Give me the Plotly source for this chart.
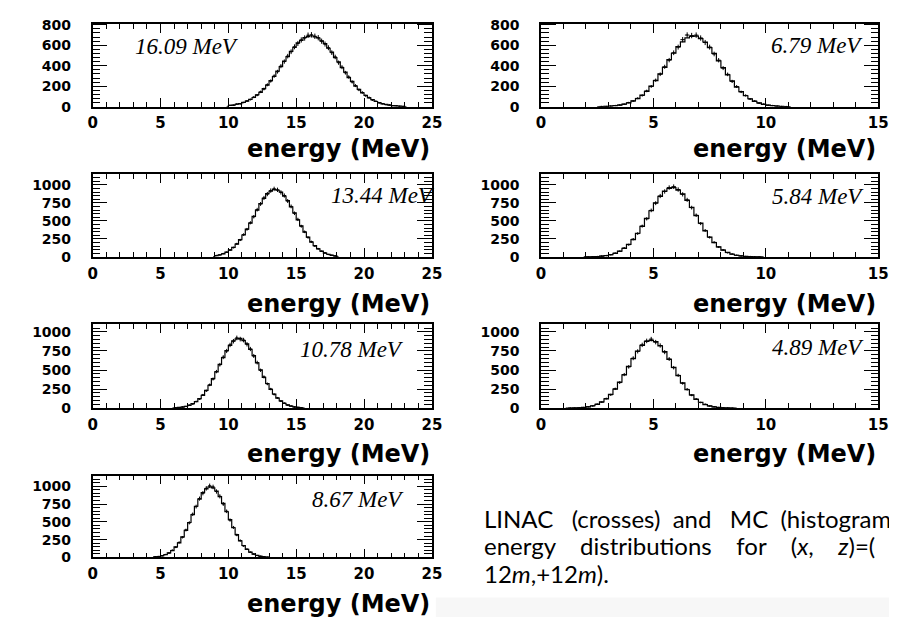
import numpy as np
import plotly.graph_objects as go

W, H = 897, 617

# ---------------- data (counts per energy bin) ----------------
# left column: bin width 0.25 MeV ; right column: bin width 0.2 MeV
L1_start, L1_width = 10.0, 0.25
L1_mc = [12,16,24,30,43,54,72,90,117,141,177,210,255,295,347,391,446,490,541,580,
         623,648,676,684,693,682,671,643,616,571,533,480,437,381,337,285,247,202,170,135,
         111,86,69,51,40,28,22,15,11,8,5,3]
L1_linac = [14,15,26,29,41,57,70,93,113,145,173,214,251,299,342,396,441,494,537,585,
            618,652,671,698,702,688,674,640,612,576,528,486,430,386,332,290,242,206,165,139,
            108,89,66,53,38,30,20,17,10,9,4,3]

L2_start, L2_width = 9.0, 0.25
L2_mc = [18,31,44,67,94,134,178,240,305,387,469,563,650,741,812,878,913,937,925,901,
         845,781,695,611,515,431,344,274,207,158,111,81,54,38,23,16]
L2_linac = [21,28,47,64,97,130,183,236,310,383,474,558,656,735,818,872,920,944,931,895,
            852,776,701,606,521,426,349,270,212,153,115,78,57,35,25,14]

L3_start, L3_width = 6.0, 0.25
L3_mc = [5,10,14,25,37,59,85,125,169,233,301,388,475,574,664,755,824,883,908,915,
         887,843,770,690,593,502,405,324,246,186,132,95,63,43,26,17,10,5]
L3_linac = [6,8,16,23,40,56,88,121,174,229,306,383,480,570,669,750,829,878,921,906,
            893,838,776,685,598,497,410,319,251,181,136,92,66,40,28,15,11,6]

L4_start, L4_width = 4.5, 0.25
L4_mc = [8,13,25,39,65,97,148,206,289,380,491,601,719,819,909,963,992,976,933,853,
         758,642,531,417,321,233,168,113,76,46,29,17,9,5]
L4_linac = [9,15,23,42,62,100,143,211,284,385,486,606,714,826,902,970,1005,990,926,858,
            751,648,525,422,316,238,163,116,73,48,27,18,11,4]

R1_start, R1_width = 2.6, 0.2
R1_mc = [2,4,7,10,15,26,37,57,79,113,150,202,254,321,385,459,522,587,633,672,
         686,689,665,632,577,520,448,382,311,252,192,148,107,78,53,37,23,15,10,5,3,2]
R1_linac = [3,3,6,11,17,24,40,55,82,110,154,198,259,317,390,455,527,582,655,700,
            695,699,671,627,582,515,454,377,316,247,197,145,110,75,56,35,25,14,11,6,2,2]

R2_start, R2_width = 2.0, 0.2
R2_mc = [2,3,6,11,18,33,50,81,119,176,241,329,423,534,641,751,839,914,950,961,
         928,874,786,689,574,469,363,277,198,141,94,63,38,24,14,8,4,2,1]
R2_linac = [1,4,5,12,20,31,53,78,123,171,246,324,428,529,646,746,845,908,962,975,
            935,868,792,684,579,463,368,272,203,138,97,60,41,23,15,7,5,2,1]

R3_start, R3_width = 1.2, 0.2
R3_mc = [1,3,5,10,17,32,50,82,121,181,249,341,436,547,649,750,823,877,888,873,
         816,741,639,536,426,331,242,175,116,78,48,30,17,10,5,3,1]
R3_linac = [2,2,6,9,19,30,53,79,126,176,254,336,441,542,655,745,830,882,905,866,
            822,735,645,531,431,326,247,170,120,75,51,28,18,9,6,2,1]

mean_labels = ["16.09 MeV", "13.44 MeV", "10.78 MeV", "8.67 MeV",
               "6.79 MeV", "5.84 MeV", "4.89 MeV"]
x_tick_left = [0, 5, 10, 15, 20, 25]
x_tick_right = [0, 5, 10, 15]
y_tick_800 = [0, 200, 400, 600, 800]
y_tick_1000 = [0, 250, 500, 750, 1000]
x_title = "energy (MeV)"
SP = "\u00a0"
caption = [f"LINAC{SP*2} (crosses){SP} and{SP*2} MC{SP} (histogram",
           f"energy{SP*3} distributions{SP*3} for{SP*3} (<i>x</i>,{SP*3} <i>z</i>)=(",
           "12<i>m</i>,+12<i>m</i>)."]

# ---------------- layout geometry (pixels) ----------------
LEFT = (81, 426)
RIGHT = (537, 880)
ROWS = [(9, 94), (163, 248), (317, 403), (472, 556)]

panels = [
    dict(start=L1_start, w=L1_width, mc=L1_mc, li=L1_linac, col=LEFT, row=ROWS[0], xr=25, ytop=810, yt=y_tick_800, minor=40,
         lab=mean_labels[0], lx=122, ly=32, la="left", ty=137),
    dict(start=L2_start, w=L2_width, mc=L2_mc, li=L2_linac, col=LEFT, row=ROWS[1], xr=25, ytop=1150, yt=y_tick_1000, minor=50,
         lab=mean_labels[1], lx=431, ly=185, la="right", ty=296),
    dict(start=L3_start, w=L3_width, mc=L3_mc, li=L3_linac, col=LEFT, row=ROWS[2], xr=25, ytop=1100, yt=y_tick_1000, minor=50,
         lab=mean_labels[2], lx=400, ly=343, la="right", ty=450),
    dict(start=L4_start, w=L4_width, mc=L4_mc, li=L4_linac, col=LEFT, row=ROWS[3], xr=25, ytop=1150, yt=y_tick_1000, minor=50,
         lab=mean_labels[3], lx=400, ly=497, la="right", ty=604),
    dict(start=R1_start, w=R1_width, mc=R1_mc, li=R1_linac, col=RIGHT, row=ROWS[0], xr=15, ytop=810, yt=y_tick_800, minor=40,
         lab=mean_labels[4], lx=866, ly=31, la="right", ty=137),
    dict(start=R2_start, w=R2_width, mc=R2_mc, li=R2_linac, col=RIGHT, row=ROWS[1], xr=15, ytop=1150, yt=y_tick_1000, minor=50,
         lab=mean_labels[5], lx=868, ly=186, la="right", ty=296),
    dict(start=R3_start, w=R3_width, mc=R3_mc, li=R3_linac, col=RIGHT, row=ROWS[2], xr=15, ytop=1100, yt=y_tick_1000, minor=50,
         lab=mean_labels[6], lx=868, ly=341, la="right", ty=450),
]

def px(x):
    return x / W

def py(y):
    return 1 - y / H

fig = go.Figure()
XTICKFONT = dict(family="DejaVu Sans", size=15, color="black", weight="bold")
YTICKFONT = dict(family="DejaVu Sans", size=14, color="black", weight="bold")
annotations = []

for i, p in enumerate(panels, start=1):
    xa = "x" if i == 1 else f"x{i}"
    ya = "y" if i == 1 else f"y{i}"
    n = len(p["mc"])
    centers = p["start"] + p["w"] * (np.arange(n) + 0.5)
    # step histogram (MC), closed down to zero at both ends
    hx = np.concatenate([[centers[0] - p["w"]], centers, [centers[-1] + p["w"]]])
    hy = np.concatenate([[0], p["mc"], [0]])
    fig.add_trace(go.Scatter(x=hx, y=hy, xaxis=xa, yaxis=ya, mode="lines",
                             line=dict(color="black", width=1.2, shape="hvh"),
                             showlegend=False, hoverinfo="skip"))
    # LINAC crosses
    fig.add_trace(go.Scatter(x=centers, y=p["li"], xaxis=xa, yaxis=ya, mode="markers",
                             marker=dict(size=1.5, color="black"),
                             error_x=dict(type="constant", value=p["w"] / 2, thickness=1, width=0, color="black"),
                             error_y=dict(type="sqrt", thickness=1, width=0, color="black"),
                             showlegend=False))
    xkey = "xaxis" if i == 1 else f"xaxis{i}"
    ykey = "yaxis" if i == 1 else f"yaxis{i}"
    xt = x_tick_left if p["xr"] == 25 else x_tick_right
    fig.layout[xkey] = dict(
        domain=[px(p["col"][0]), px(p["col"][1])], anchor=ya, range=[0, p["xr"]],
        tickvals=xt, ticks="inside", ticklen=9, tickwidth=1.2, tickcolor="black",
        minor=dict(dtick=1, tick0=0, ticks="inside", ticklen=5, tickwidth=1, tickcolor="black"),
        showline=True, linecolor="black", linewidth=1.5, mirror="ticks",
        showgrid=False, zeroline=False, tickfont=XTICKFONT, ticklabelstandoff=2,
    )
    fig.layout[ykey] = dict(
        domain=[py(p["row"][1]), py(p["row"][0])], anchor=xa, range=[0, p["ytop"]],
        tickvals=p["yt"], ticks="inside", ticklen=15, tickwidth=1.2, tickcolor="black",
        minor=dict(dtick=p["minor"], tick0=0, ticks="inside", ticklen=8, tickwidth=1, tickcolor="black"),
        showline=True, linecolor="black", linewidth=1.5, mirror="ticks",
        showgrid=False, zeroline=False, tickfont=YTICKFONT, ticklabelstandoff=17,
    )
    # axis title as right-aligned bold text below the panel
    annotations.append(dict(text=x_title, xref="paper", yref="paper",
                            x=px(p["col"][1]), y=py(p["ty"]),
                            xanchor="right", yanchor="middle", showarrow=False,
                            font=dict(family="DejaVu Sans", size=24, color="black", weight="bold")))
    # mean energy label
    annotations.append(dict(text=p["lab"], xref="paper", yref="paper",
                            x=px(p["lx"]), y=py(p["ly"]), xanchor=p["la"], yanchor="middle",
                            showarrow=False,
                            font=dict(family="Liberation Serif", size=23, color="black", style="italic")))

for k, line in enumerate(caption):
    annotations.append(dict(text=line, xref="paper", yref="paper",
                            x=px(477), y=py(516 + 28 * k), xanchor="left", yanchor="middle",
                            showarrow=False,
                            font=dict(family="Lato", size=24, color="black")))

fig.update_layout(
    width=W, height=H, margin=dict(l=0, r=0, t=0, b=0),
    paper_bgcolor="white", plot_bgcolor="white",
    annotations=annotations,
    shapes=[dict(type="rect", xref="paper", yref="paper", x0=px(430), x1=1, y0=0, y1=py(597),
                 fillcolor="#f7f7f7", line=dict(width=0), layer="below")],
)

fig.write_html("out.html")
